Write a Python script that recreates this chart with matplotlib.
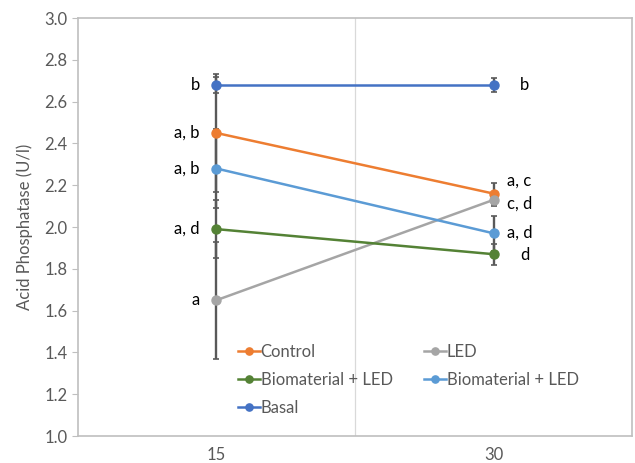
import matplotlib
matplotlib.use("Agg")
import matplotlib.pyplot as plt

plt.rcParams['font.family'] = ['Lato', 'DejaVu Sans']

days = ["15", "30"]
series_names = ["Control", "LED", "Biomaterial + LED", "Biomaterial + LED", "Basal"]
series_colors = ["#ED7D31", "#A5A5A5", "#548235", "#5B9BD5", "#4472C4"]
values = [
    [2.45, 2.16],
    [1.65, 2.13],
    [1.99, 1.87],
    [2.28, 1.97],
    [2.68, 2.68],
]
errors = [
    [0.28, 0.05],
    [0.28, 0.03],
    [0.14, 0.05],
    [0.19, 0.085],
    [0.04, 0.035],
]
labels_15 = ["a, b", "a", "a, d", "a, b", "b"]
labels_30 = ["a, c", "c, d", "d", "a, d", "b"]
label_y_30 = [2.22, 2.11, 1.865, 1.975, 2.68]

fig = plt.figure(figsize=(6.35, 4.63), dpi=100)
ax = fig.add_axes([0.1228, 0.0583, 0.8725, 0.9027])

x = list(range(len(days)))
handles = []
for name, col, v, e in zip(series_names, series_colors, values, errors):
    ax.errorbar(x, v, yerr=e, fmt='none', ecolor='#595959', elinewidth=1.7,
                capsize=2.5, capthick=1.2, zorder=2)
    h, = ax.plot(x, v, color=col, lw=1.8, marker='o', ms=6.5, label=name, zorder=3)
    handles.append(h)

for lab, v in zip(labels_15, values):
    ax.text(-0.06, v[0], lab, ha='right', va='center', fontsize=12, color='#000000')
for lab, y in zip(labels_30, label_y_30):
    ha_x = 1.05 if len(lab) > 1 else 1.095
    ax.text(ha_x, y, lab, ha='left', va='center', fontsize=12, color='#000000')

ax.set_xlim(-0.5, 1.5)
ax.set_ylim(1.0, 3.0)
ax.set_xticks(x)
ax.set_xticklabels(days)
ax.set_yticks([1.0 + 0.2 * i for i in range(11)])
ax.set_yticklabels([f"{1.0 + 0.2 * i:.1f}" for i in range(11)])
ax.axvline(0.5, color='#D9D9D9', lw=0.9, zorder=0)
ax.tick_params(axis='x', length=0, labelsize=12, labelcolor='#595959', pad=8)
ax.tick_params(axis='y', length=4, color='#BFBFBF', labelsize=12, labelcolor='#595959')
for s in ax.spines.values():
    s.set_color('#BFBFBF')
    s.set_linewidth(1.2)
ax.set_ylabel("Acid Phosphatase (U/l)", fontsize=12, color='#595959', labelpad=8)

order = [0, 2, 4, 1, 3]
leg = ax.legend([handles[i] for i in order], [series_names[i] for i in order],
                ncol=2, loc='lower left', bbox_to_anchor=(0.262, 0.012),
                frameon=False, fontsize=12, handlelength=1.3, handletextpad=0.05,
                columnspacing=1.9, labelspacing=0.72, markerscale=0.8)
for t in leg.get_texts():
    t.set_color('#595959')

fig.savefig("out.png", dpi=100)
